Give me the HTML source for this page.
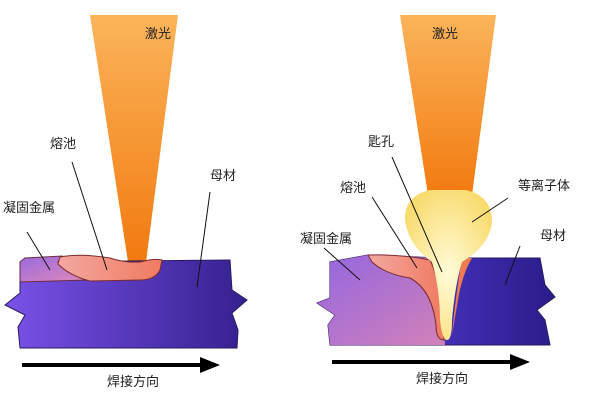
<!DOCTYPE html>
<html><head><meta charset="utf-8"><style>
html,body{margin:0;padding:0;background:#fff;}
svg{display:block}
text{font-family:"Liberation Sans","Noto Sans CJK SC",sans-serif;font-size:13px;fill:#222;}
</style></head><body>
<svg width="600" height="400" viewBox="0 0 600 400">
<defs>
<linearGradient id="beam" x1="0" y1="0" x2="0" y2="1">
<stop offset="0" stop-color="#fbb45a"/><stop offset="1" stop-color="#f27a10"/></linearGradient>
<linearGradient id="plate" x1="0" y1="0" x2="1" y2="0">
<stop offset="0" stop-color="#7a52e8"/><stop offset="1" stop-color="#35208f"/></linearGradient>
<linearGradient id="plate2" x1="0" y1="0" x2="1" y2="0">
<stop offset="0" stop-color="#5d45e8"/><stop offset="1" stop-color="#2a1c8a"/></linearGradient>
<linearGradient id="solid" x1="0" y1="0" x2="1" y2="1">
<stop offset="0" stop-color="#9a6ae0"/><stop offset="1" stop-color="#e28ab8"/></linearGradient>
<linearGradient id="pool" x1="0" y1="0" x2="1" y2="0">
<stop offset="0" stop-color="#f3a8a0"/><stop offset="1" stop-color="#f07a60"/></linearGradient>
<radialGradient id="plasma" cx="0.5" cy="0.55" r="0.6">
<stop offset="0" stop-color="#fffbd8"/><stop offset="1" stop-color="#f8dc70"/></radialGradient>
</defs>

<!-- LEFT -->
<polygon points="90,15 178,15 146,262 128,262" fill="url(#beam)"/>
<polygon points="20,262 230,260 232,290 247,300 232,313 238,330 237,348 20,348 18,327 25,315 5,305 20,293" fill="url(#plate)" stroke="#2a1a60" stroke-width="1"/>
<path d="M20,262 L25,258 L62,256 L58,262 L70,272 L88,280 L20,282 Z" fill="url(#solid)" stroke="#6a2a40" stroke-width="1"/>
<path d="M60,257 Q80,253 110,258 Q125,263 140,262 Q155,258 162,260 L160,270 Q155,280 140,280 L90,281 Q70,276 58,264 Z" fill="url(#pool)" stroke="#7a2a30" stroke-width="1"/>
<line x1="72" y1="162" x2="107" y2="270" stroke="#111" stroke-width="1"/>
<line x1="27" y1="232" x2="50" y2="270" stroke="#111" stroke-width="1"/>
<line x1="210" y1="192" x2="197" y2="287" stroke="#111" stroke-width="1"/>
<line x1="22" y1="365" x2="205" y2="365" stroke="#000" stroke-width="4"/>
<polygon points="200,357 220,365 200,373" fill="#000"/>
<text x="145" y="38">激光</text>
<text x="50" y="148">熔池</text>
<text x="3" y="212">凝固金属</text>
<text x="210" y="180">母材</text>
<text x="107" y="386">焊接方向</text>

<!-- RIGHT -->
<polygon points="400,15 496,15 472,195 428,195" fill="url(#beam)"/>
<polygon points="330,262 368,255 440,258 468,258 540,258 545,285 555,297 537,310 545,320 550,345 330,345 328,325 335,315 317,303 330,298" fill="url(#plate2)" stroke="#2a1a60" stroke-width="1"/>
<path d="M330,262 L368,255 L440,258 L445,345 L330,345 L328,325 L335,315 L317,303 L330,298 Z" fill="url(#solid)" opacity="0.9"/>
<path d="M368,255 Q400,254 430,260 Q440,280 442,320 L444,340 Q436,340 436,325 Q432,290 410,278 Q385,274 372,262 Z" fill="url(#pool)" stroke="#7a2a30" stroke-width="1"/>
<path d="M462,258 L472,258 Q462,275 458,300 L452,335 Q455,300 462,258 Z" fill="#f07a50"/>
<path d="M430,190 Q404,196 405,220 Q408,245 432,262 Q440,290 440,320 Q442,340 447,340 Q452,340 452,320 Q455,285 462,262 Q490,245 492,222 Q492,196 466,190 Z" fill="url(#plasma)"/>
<line x1="392" y1="157" x2="442" y2="272" stroke="#111" stroke-width="1"/>
<line x1="372" y1="197" x2="417" y2="268" stroke="#111" stroke-width="1"/>
<line x1="324" y1="248" x2="360" y2="280" stroke="#111" stroke-width="1"/>
<line x1="508" y1="198" x2="472" y2="222" stroke="#111" stroke-width="1"/>
<line x1="520" y1="246" x2="505" y2="285" stroke="#111" stroke-width="1"/>
<line x1="332" y1="362" x2="515" y2="362" stroke="#000" stroke-width="4"/>
<polygon points="510,354 530,362 510,370" fill="#000"/>
<text x="432" y="38">激光</text>
<text x="368" y="146">匙孔</text>
<text x="340" y="192">熔池</text>
<text x="300" y="243">凝固金属</text>
<text x="518" y="190">等离子体</text>
<text x="540" y="240">母材</text>
<text x="416" y="383">焊接方向</text>
</svg>
</body></html>
